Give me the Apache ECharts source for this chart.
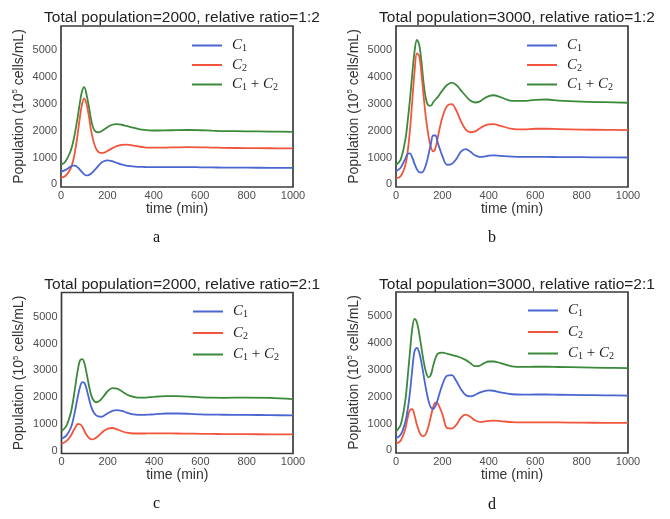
<!DOCTYPE html>
<html><head><meta charset="utf-8">
<script src="https://cdn.jsdelivr.net/npm/echarts@6/dist/echarts.min.js"></script>
<style>html,body{margin:0;padding:0;background:#fff}#c{width:670px;height:519px}</style>
</head><body><div id="c"></div>
<script>
// time points (min)
const T = [0, 20, 40, 50, 60, 70, 80, 90, 100, 110, 120, 130, 140, 150, 160, 170, 180, 200, 220, 240, 260, 280, 300, 320, 340, 360, 380, 400, 420, 450, 500, 550, 600, 650, 700, 800, 900, 1000];

const titles = [
  'Total population=2000, relative ratio=1:2',
  'Total population=3000, relative ratio=1:2',
  'Total population=2000, relative ratio=2:1',
  'Total population=3000, relative ratio=2:1'
];
const letters = ['a', 'b', 'c', 'd'];
const seriesNames = ['C1', 'C2', 'C1+C2'];
const xTicks = [0, 200, 400, 600, 800, 1000];
const yTicks = [0, 1000, 2000, 3000, 4000, 5000];

// Panel a
const blueA = [470, 540, 650, 695, 700, 650, 560, 460, 370, 330, 345, 400, 480, 580, 680, 770, 840, 890, 860, 800, 740, 700, 675, 660, 650, 645, 640, 640, 640, 640, 640, 640, 635, 630, 625, 620, 615, 610];
const redA = [250, 320, 560, 800, 1200, 1750, 2400, 2950, 3200, 3000, 2550, 2000, 1600, 1350, 1220, 1170, 1170, 1240, 1340, 1420, 1470, 1480, 1460, 1430, 1400, 1380, 1370, 1365, 1365, 1370, 1380, 1385, 1380, 1370, 1360, 1350, 1345, 1340];
const greenA = [720, 860, 1210, 1495, 1900, 2400, 2960, 3450, 3620, 3350, 2900, 2400, 2080, 1960, 1940, 1960, 2010, 2130, 2220, 2240, 2220, 2180, 2135, 2090, 2050, 2025, 2010, 2005, 2005, 2010, 2020, 2025, 2015, 2000, 1985, 1975, 1965, 1955];
// Panel b
const blueB = [490, 620, 950, 1130, 1150, 1000, 760, 560, 450, 440, 520, 750, 1100, 1500, 1820, 1820, 1550, 1050, 730, 760, 940, 1220, 1310, 1220, 1080, 1020, 1030, 1070, 1080, 1060, 1030, 1020, 1020, 1020, 1015, 1010, 1005, 1000];
const redB = [220, 300, 700, 1200, 2000, 3100, 4200, 4880, 4780, 4100, 3200, 2400, 1800, 1400, 1230, 1350, 1750, 2500, 2920, 2990, 2750, 2350, 2050, 1940, 1970, 2080, 2180, 2230, 2240, 2180, 2070, 2050, 2070, 2070, 2060, 2040, 2030, 2020];
const greenB = [720, 920, 1650, 2330, 3150, 4100, 4950, 5380, 5200, 4550, 3700, 3150, 2940, 2930, 3050, 3160, 3250, 3500, 3700, 3790, 3700, 3500, 3300, 3120, 3050, 3080, 3200, 3290, 3320, 3250, 3110, 3110, 3150, 3160, 3120, 3080, 3060, 3040];
// Panel c
const blueC = [450, 560, 850, 1150, 1550, 2000, 2380, 2560, 2520, 2250, 1900, 1600, 1420, 1320, 1280, 1270, 1290, 1400, 1490, 1520, 1490, 1430, 1380, 1350, 1340, 1340, 1350, 1360, 1375, 1390, 1390, 1380, 1360, 1350, 1345, 1340, 1330, 1320];
const redC = [270, 350, 560, 720, 880, 1000, 990, 900, 720, 570, 470, 430, 440, 490, 560, 640, 720, 830, 850, 800, 730, 680, 655, 645, 645, 645, 648, 650, 650, 648, 645, 640, 635, 630, 625, 620, 615, 610];
const greenC = [740, 910, 1410, 1870, 2430, 3000, 3370, 3420, 3230, 2820, 2370, 2030, 1860, 1810, 1840, 1910, 2010, 2230, 2340, 2320, 2220, 2110, 2035, 1995, 1985, 1985, 1998, 2010, 2025, 2038, 2035, 2020, 1995, 1980, 1975, 1985, 1970, 1930];
// Panel d
const blueD = [450, 580, 1050, 1500, 2150, 3000, 3700, 3820, 3650, 3250, 2750, 2250, 1850, 1600, 1540, 1650, 1900, 2450, 2780, 2800, 2580, 2280, 2060, 2010, 2060, 2150, 2210, 2235, 2220, 2160, 2090, 2075, 2080, 2080, 2070, 2060, 2050, 2040];
const redD = [250, 360, 800, 1200, 1500, 1530, 1300, 950, 700, 550, 530, 640, 900, 1250, 1600, 1780, 1750, 1350, 830, 810, 950, 1220, 1330, 1250, 1120, 1060, 1070, 1100, 1110, 1090, 1050, 1040, 1045, 1045, 1040, 1030, 1025, 1020];
const greenD = [700, 940, 1850, 2700, 3650, 4530, 4900, 4770, 4350, 3800, 3280, 2890, 2720, 2810, 3140, 3430, 3600, 3640, 3600, 3560, 3510, 3450, 3370, 3250, 3140, 3150, 3250, 3310, 3310, 3250, 3130, 3110, 3115, 3115, 3105, 3090, 3075, 3060];

const panels = [
  [blueA, redA, greenA],
  [blueB, redB, greenB],
  [blueC, redC, greenC],
  [blueD, redD, greenD]
];

const colors = ['#4a66d2', '#f2553c', '#3b8a3b'];
const gridPos = [
  {left: 61, top: 26, width: 232, height: 161},
  {left: 396, top: 26, width: 232, height: 161},
  {left: 61.5, top: 292.5, width: 231.5, height: 161},
  {left: 396, top: 292, width: 232, height: 161}
];
const titleTop = [5, 5, 272, 272];
const legendPos = [
  {left: 192, top: 38, gap: 4},
  {left: 527, top: 38, gap: 4},
  {left: 193, top: 304, gap: 6},
  {left: 528, top: 303, gap: 6}
];
const letterPos = [[158, 239], [493, 239], [158, 505], [493, 506]];

const sans = 'Liberation Sans, Arial, sans-serif';
const serif = 'Liberation Serif, Times New Roman, serif';

const option = {
  backgroundColor: '#fff',
  animation: false,
  title: [], grid: [], xAxis: [], yAxis: [], legend: [], series: [],
  graphic: []
};

panels.forEach((p, i) => {
  const g = gridPos[i];
  option.grid.push({left: g.left, top: g.top, width: g.width, height: g.height, show: true,
    borderColor: '#3c3c3c', borderWidth: 1.7, backgroundColor: 'transparent', containLabel: false});
  option.title.push({text: titles[i], left: g.left + g.width / 2, top: titleTop[i], textAlign: 'center',
    textStyle: {fontFamily: sans, fontSize: 15.5, fontWeight: 'normal', color: '#222'}});
  option.xAxis.push({type: 'value', gridIndex: i, min: 0, max: 1000, interval: 200,
    name: 'time (min)', nameLocation: 'middle', nameGap: 15,
    nameTextStyle: {fontFamily: sans, fontSize: 14, color: '#333'},
    axisLine: {show: false}, axisTick: {show: false}, splitLine: {show: false},
    axisLabel: {customValues: xTicks, formatter: v => String(v), fontFamily: sans, fontSize: 11, color: '#4d4d4d', margin: 3}});
  option.yAxis.push({type: 'value', gridIndex: i, min: -100, max: 5900,
    name: '{a|Population (10}{s|5}{a| cells/mL)}', nameLocation: 'middle', nameGap: 34,
    nameTextStyle: {fontFamily: sans, fontSize: 14, color: '#333',
      rich: {a: {fontFamily: sans, fontSize: 14, color: '#333', lineHeight: 16},
             s: {fontFamily: sans, fontSize: 8, color: '#333', lineHeight: 8, verticalAlign: 'top'}}},
    axisLine: {show: false}, axisTick: {show: false}, splitLine: {show: false},
    axisLabel: {customValues: yTicks, formatter: v => String(v), fontFamily: sans, fontSize: 11, color: '#4d4d4d', margin: 4}});
  const lp = legendPos[i];
  option.legend.push({orient: 'vertical', left: lp.left, top: lp.top, itemGap: lp.gap,
    itemWidth: 30, itemHeight: 2, icon: 'rect', selectedMode: false, padding: 0,
    data: seriesNames,
    formatter: function (n) {
      if (n === 'C1') return '{c|C}{s|1}';
      if (n === 'C2') return '{c|C}{s|2}';
      return '{c|C}{s|1}{p| + }{c|C}{s|2}';
    },
    textStyle: {padding: [0, 0, 0, 5], color: '#222',
      rich: {
        c: {fontFamily: serif, fontStyle: 'italic', fontSize: 15, color: '#222', lineHeight: 16},
        s: {fontFamily: serif, fontSize: 10, color: '#222', lineHeight: 10, verticalAlign: 'bottom'},
        p: {fontFamily: serif, fontSize: 15, color: '#222', lineHeight: 16}
      }}});
  p.forEach((arr, k) => {
    option.series.push({type: 'line', name: seriesNames[k], xAxisIndex: i, yAxisIndex: i,
      data: T.map((t, j) => [t, arr[j]]), smooth: 0.35, showSymbol: false, symbol: 'none',
      color: colors[k], lineStyle: {width: 1.8, color: colors[k]}, z: 3 - k});
  });
  option.graphic.push({type: 'text', left: letterPos[i][0] - 5, top: letterPos[i][1] - 9,
    style: {text: letters[i], font: '16px ' + serif, fill: '#111'}});
});

const chart = echarts.init(document.getElementById('c'), null, {renderer: 'canvas'});
chart.setOption(option);
</script></body></html>
